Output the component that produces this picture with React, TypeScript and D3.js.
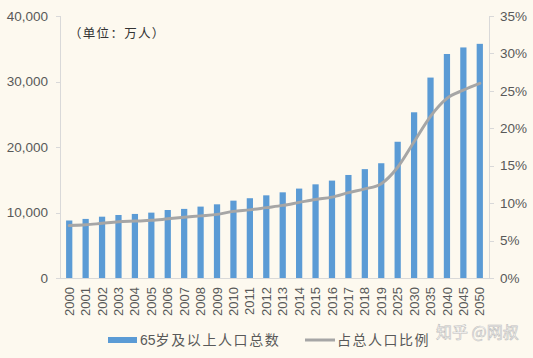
import React from "react";
import * as d3 from "d3";

const years = ["2000","2001","2002","2003","2004","2005","2006","2007","2008","2009","2010","2011","2012","2013","2014","2015","2016","2017","2018","2019","2025","2030","2035","2040","2045","2050"];
const elderly = [8780,9020,9360,9620,9780,9980,10380,10550,10900,11250,11810,12180,12620,13080,13650,14300,14870,15730,16620,17520,20800,25300,30600,34200,35200,35750];
const ratio = [7.0,7.1,7.3,7.5,7.6,7.7,7.9,8.1,8.3,8.5,8.9,9.1,9.4,9.7,10.1,10.5,10.8,11.4,11.9,12.6,14.8,18.2,21.6,24.0,25.1,26.0];
const leftTicks = [0,10000,20000,30000,40000];
const rightTicks = [0,5,10,15,20,25,30,35];

const W = 533, H = 358;
const BG = "#fdf9ef";
const GRID = "#d9d9d9";
const TXT = "#595959";
const BAR = "#5b9bd5";
const LINE = "#a6a6a6";
const FONT = "Arial, 'Liberation Sans', sans-serif";
const CJK = "'Noto Sans CJK SC', sans-serif";

export default function App() {
  const x = d3.scaleBand<string>().domain(years).range([61, 488]).paddingInner(0.62).paddingOuter(0.31);
  const yL = d3.scaleLinear().domain([0, 40000]).range([278, 16]);
  const yR = d3.scaleLinear().domain([0, 35]).range([278, 16]);
  const cx = (d: string) => (x(d) as number) + x.bandwidth() / 2;
  const line = d3.line<number>()
    .x((_, i) => cx(years[i]))
    .y((d) => yR(d))
    .curve(d3.curveMonotoneX);
  const fmt = d3.format(",");

  return (
    <div style={{ position: "fixed", left: 0, top: 0 }}>
      <svg width={W} height={H} style={{ display: "block", background: BG }}>
        <rect x={0} y={0} width={W} height={H} fill={BG} />
        {/* axes */}
        <line x1={60.5} x2={60.5} y1={16} y2={278} stroke={GRID} strokeWidth={1} />
        <line x1={489.5} x2={489.5} y1={16} y2={278} stroke={GRID} strokeWidth={1} />
        <line x1={60} x2={490} y1={278.5} y2={278.5} stroke={GRID} strokeWidth={1} />
        {leftTicks.map((t) => (
          <g key={"l" + t}>
            <line x1={56} x2={60} y1={Math.round(yL(t)) + 0.5} y2={Math.round(yL(t)) + 0.5} stroke={GRID} />
            <text x={48} y={yL(t)} dy="0.35em" textAnchor="end" fontFamily={FONT} fontSize={13.5} fill={TXT}>
              {fmt(t)}
            </text>
          </g>
        ))}
        {rightTicks.map((t) => (
          <g key={"r" + t}>
            <line x1={490} x2={494} y1={Math.round(yR(t)) + 0.5} y2={Math.round(yR(t)) + 0.5} stroke={GRID} />
            <text x={500} y={yR(t)} dy="0.35em" textAnchor="start" fontFamily={FONT} fontSize={13.5} fill={TXT}>
              {t + "%"}
            </text>
          </g>
        ))}
        {/* bars */}
        {years.map((yr, i) => (
          <rect key={yr} x={x(yr)} y={yL(elderly[i])} width={x.bandwidth()} height={278 - yL(elderly[i])} fill={BAR} />
        ))}
        {/* line */}
        <path d={line(ratio) || ""} fill="none" stroke={LINE} strokeWidth={3} strokeLinecap="round" />
        {/* x labels */}
        {years.map((yr) => (
          <text key={"t" + yr} transform={`translate(${cx(yr)},287) rotate(-90)`} dy="0.35em" textAnchor="end" fontFamily={FONT} fontSize={13} fill={TXT}>
            {yr}
          </text>
        ))}
        {/* unit */}
        <text x={69} y={34} dy="0.35em" fontFamily={CJK} fontSize={12.5} fill="#333" letterSpacing={1.3}>
          （单位：万人）
        </text>
        {/* legend */}
        <rect x={108} y={337} width={29} height={6} fill={BAR} />
        <text x={140} y={340} dy="0.35em" fontFamily={FONT} fontSize={14} fill={TXT}>
          65<tspan fontFamily={CJK} letterSpacing={1.6}>岁及以上人口总数</tspan>
        </text>
        <line x1={305} x2={335} y1={340} y2={340} stroke={LINE} strokeWidth={3} />
        <text x={337} y={340} dy="0.35em" fontFamily={CJK} fontSize={14} fill={TXT} letterSpacing={1.5}>
          占总人口比例
        </text>
        {/* watermark */}
        <text x={436} y={332} dy="0.35em" fontFamily={CJK} fontSize={16} fill="#ffffff" stroke="#b8b8b8" strokeWidth={0.6} opacity={0.9}>
          知乎 @网叔
        </text>
      </svg>
    </div>
  );
}
